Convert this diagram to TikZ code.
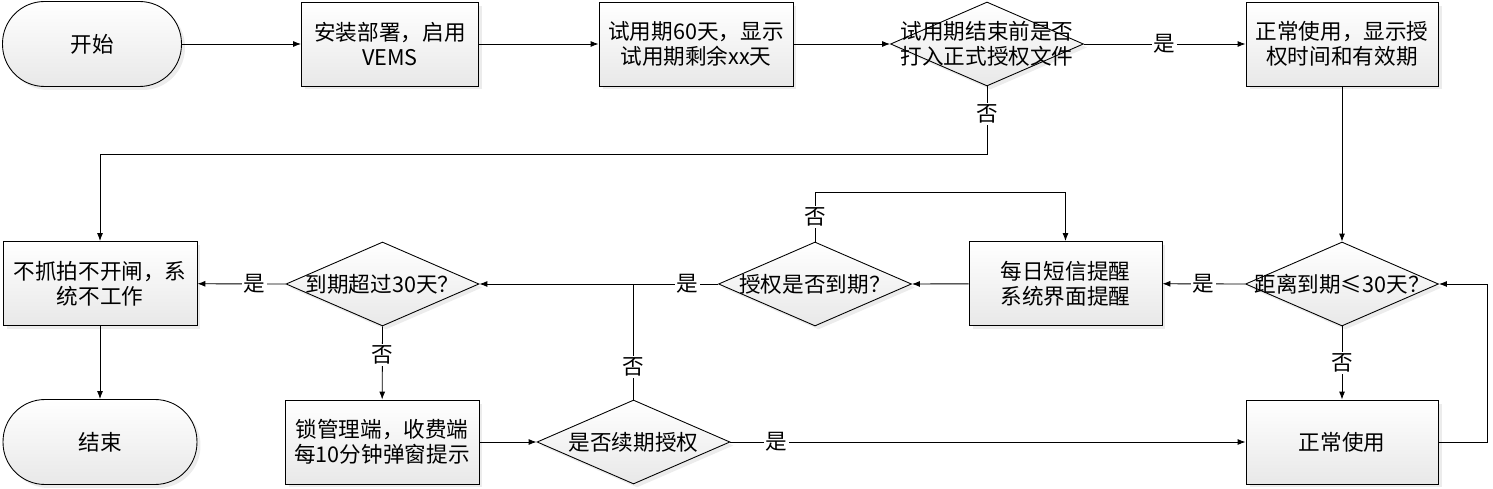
\documentclass[tikz,border=0pt]{standalone}
\usepackage{fontspec}
\newfontfamily\zhfont{Noto Sans CJK SC}
\usetikzlibrary{shapes.geometric,shadows,arrows.meta}

\tikzset{
  boxshade/.style={draw=black, line width=0.5pt, top color=white, bottom color=black!9,
    drop shadow={opacity=0.15, shadow xshift=0.07cm, shadow yshift=-0.07cm}},
  procbox/.style={boxshade, rectangle, minimum width=3.86cm, minimum height=1.68cm, align=center, inner sep=0pt},
  termbox/.style={boxshade, rectangle, rounded corners=0.84cm, minimum height=1.7cm, inner sep=0pt},
  choice/.style={boxshade, diamond, minimum width=3.86cm, minimum height=1.68cm, inner sep=0pt},
  flowline/.style={line width=0.5pt, -{Latex[length=1.6mm,width=1.2mm]}},
  plainline/.style={line width=0.5pt},
  answer/.style={fill=white, inner sep=1pt}
}

\begin{document}
\begin{tikzpicture}[x=0.02cm, y=-0.02cm, font=\zhfont\fontsize{12.3}{14}\selectfont]
			%%%%% START %%%%%
			\useasboundingbox (0, 0) rectangle (1493, 489);
			
			% top row
			\node[termbox, minimum width=3.58cm] (start) at (92, 44) {开始};
			\node[procbox, minimum width=3.54cm] (deploy) at (390, 44) {安装部署，启用\\VEMS};
			\node[procbox, minimum width=3.88cm] (trial) at (696, 44) {试用期60天，显示\\试用期剩余xx天};
			\node[choice, label={[align=center]center:试用期结束前是否\\打入正式授权文件}] (licfile) at (987, 44) {};
			\node[procbox, minimum width=3.84cm] (showlic) at (1342, 44) {正常使用，显示授\\权时间和有效期};
			
			% middle row
			\node[procbox, minimum width=3.88cm] (nowork) at (100, 283.5) {不抓拍不开闸，系\\统不工作};
			\node[choice, label={center:到期超过30天？}] (over30) at (382.5, 284) {};
			\node[choice, label={center:授权是否到期？}] (expired) at (815, 284) {};
			\node[procbox, minimum width=3.86cm] (remind) at (1065.5, 283.5) {每日短信提醒\\系统界面提醒};
			\node[choice, label={center:距离到期≤30天？}] (left30) at (1342, 284) {};
			
			% bottom row
			\node[termbox, minimum width=3.88cm] (finish) at (100, 442) {结束};
			\node[procbox, minimum width=3.88cm] (lock) at (382, 442) {锁管理端，收费端\\每10分钟弹窗提示};
			\node[choice, label={center:是否续期授权}] (renew) at (633.5, 442) {};
			\node[procbox, minimum width=3.84cm] (normal) at (1342, 442) {正常使用};
			
			\coordinate (loopright) at (1487, 442);
			
			% connectors
			\draw[flowline] (start) -- (deploy);
			\draw[flowline] (deploy) -- (trial);
			\draw[flowline] (trial) -- (licfile.west);
			\draw[flowline] (licfile.east) -- node[answer] {是} (showlic);
			\draw[flowline] (licfile.south) -- node[answer, pos=0.4] {否} ++(0, 68) -| (nowork.north);
			
			\draw[flowline] (showlic) -- (left30.north);
			\draw[flowline] (left30.west) -- node[answer] {是} (remind);
			\draw[flowline] (left30.south) -- node[answer] {否} (normal);
			\draw[flowline] (normal.east) -- (loopright) |- (left30.east);
			
			\draw[flowline] (remind) -- (expired.east);
			\draw[flowline] (expired.north) -- node[answer, pos=0.5] {否} ++(0, -49) -| (remind.north);
			\draw[flowline] (expired.west) -- node[answer, pos=0.13] {是} (over30.east);
			\draw[flowline] (over30.west) -- node[answer, pos=0.35] {是} (nowork);
			\draw[flowline] (over30.south) -- node[answer, pos=0.39] {否} (lock);
			\draw[flowline] (nowork) -- (finish);
			
			\draw[flowline] (lock) -- (renew.west);
			\draw[plainline] (renew.north) -- node[answer, pos=0.28] {否} (renew.north |- over30.east);
			\draw[flowline] (renew.east) -- node[answer, pos=0.09] {是} (normal);
			
			%%%%% END %%%%%
		\end{tikzpicture}
\end{document}
